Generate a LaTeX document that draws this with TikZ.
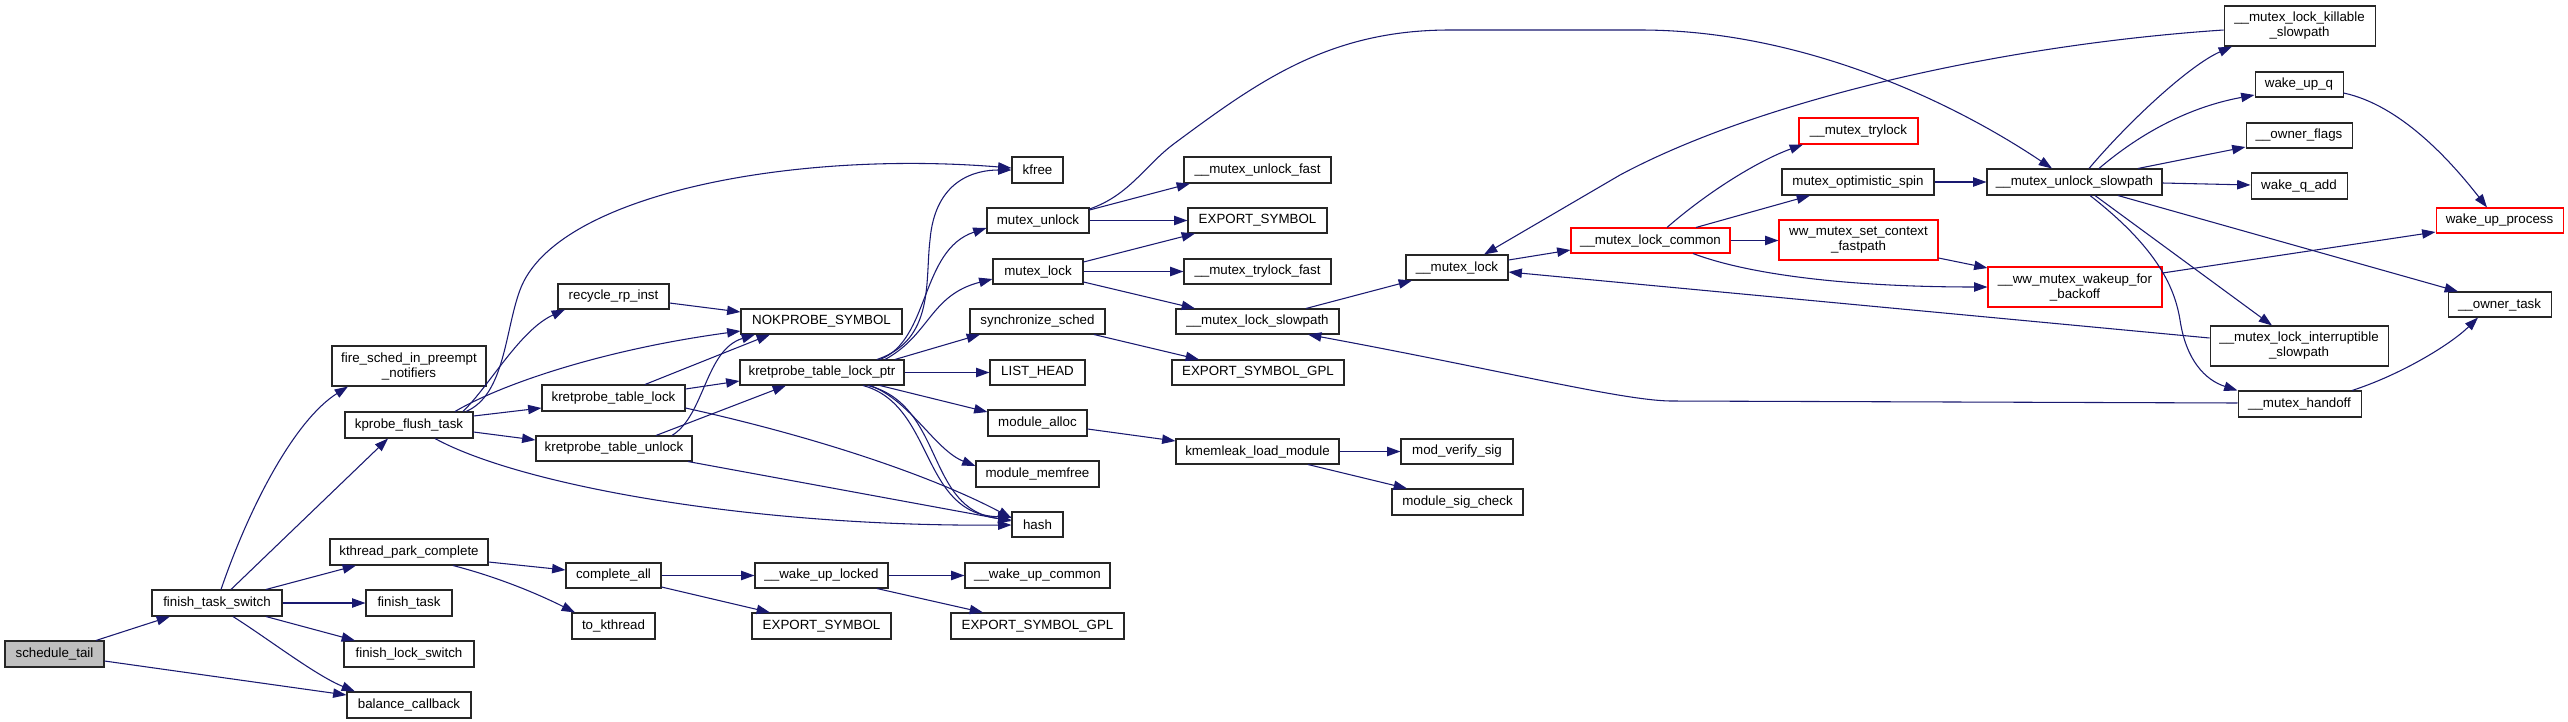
\documentclass[tikz,border=0pt]{standalone}
\usepackage{fontspec}
\setmainfont{Liberation Sans}
\usetikzlibrary{arrows.meta}
\definecolor{edgecol}{HTML}{191970}
\definecolor{nodered}{HTML}{FF0000}
\definecolor{rootgray}{HTML}{BFBFBF}
\definecolor{boxline}{HTML}{262626}
\tikzset{
  box/.style={draw=boxline, rectangle, inner sep=0pt, line width=0.8pt,
    font=\fontsize{10}{11.25}\selectfont, align=center, text=black},
  e/.style={draw=edgecol, line width=0.8pt, -{Triangle[length=10pt,width=7pt]}},
}
\newcommand\bx[7][]{\node[box,#1,minimum width={(#5-#3)*0.75pt},minimum height={(#6-#4)*0.75pt}] (#2) at ({(#3+#5)/2},{(#4+#6)/2}) {#7};}
\begin{document}
\begin{tikzpicture}[x=0.75pt,y=-0.75pt]
\fill[white] (0,0) rectangle (2568,721);
\useasboundingbox (0,0) rectangle (2568,721);
% nodes
\bx[fill=rootgray]{st}{5}{641}{104}{667}{schedule\_tail}
\bx{fts}{152}{590}{282}{616}{finish\_task\_switch}
\bx{fire}{332}{346}{486}{386}{fire\_sched\_in\_preempt\\\_notifiers}
\bx{kft}{345}{412}{473}{438}{kprobe\_flush\_task}
\bx{kpc}{330}{539}{488}{565}{kthread\_park\_complete}
\bx{ft}{366}{590}{452}{616}{finish\_task}
\bx{fls}{344}{641}{474}{667}{finish\_lock\_switch}
\bx{bc}{347}{692}{471}{718}{balance\_callback}
\bx{rri}{558}{284}{669}{309}{recycle\_rp\_inst}
\bx{nok}{741}{309}{902}{334}{NOKPROBE\_SYMBOL}
\bx{ktl}{542}{385}{685}{411}{kretprobe\_table\_lock}
\bx{ktul}{536}{436}{692}{461}{kretprobe\_table\_unlock}
\bx{ktlp}{740}{360}{904}{385}{kretprobe\_table\_lock\_ptr}
\bx{kfree}{1012}{157}{1063}{183}{kfree}
\bx{mu}{987}{208}{1089}{233}{mutex\_unlock}
\bx{mtxlock}{993}{259}{1083}{284}{mutex\_lock}
\bx{sync}{970}{309}{1105}{334}{synchronize\_sched}
\bx{lh}{990}{360}{1085}{385}{LIST\_HEAD}
\bx{ma}{988}{410}{1087}{436}{module\_alloc}
\bx{mmf}{976}{461}{1099}{487}{module\_memfree}
\bx{hash}{1012}{512}{1063}{537}{hash}
\bx{ca}{566}{563}{661}{588}{complete\_all}
\bx{wul}{755}{563}{888}{588}{\_\_wake\_up\_locked}
\bx{wuc}{965}{563}{1110}{588}{\_\_wake\_up\_common}
\bx{tk}{572}{613}{655}{639}{to\_kthread}
\bx{es2}{752}{613}{891}{639}{EXPORT\_SYMBOL}
\bx{esg2}{951}{613}{1124}{639}{EXPORT\_SYMBOL\_GPL}
\bx{muf}{1184}{157}{1331}{183}{\_\_mutex\_unlock\_fast}
\bx{es1}{1188}{208}{1327}{233}{EXPORT\_SYMBOL}
\bx{mtf}{1184}{259}{1331}{284}{\_\_mutex\_trylock\_fast}
\bx{mls}{1176}{309}{1339}{334}{\_\_mutex\_lock\_slowpath}
\bx{esg1}{1172}{360}{1344}{385}{EXPORT\_SYMBOL\_GPL}
\bx{kml}{1176}{439}{1339}{464}{kmemleak\_load\_module}
\bx{mvs}{1401}{439}{1513}{464}{mod\_verify\_sig}
\bx{msc}{1392}{489}{1523}{515}{module\_sig\_check}
\bx{umlock}{1406}{255}{1508}{280}{\_\_mutex\_lock}
\bx[draw=nodered]{mlc}{1571}{228}{1730}{253}{\_\_mutex\_lock\_common}
\bx[draw=nodered]{mtl}{1799}{118}{1918}{144}{\_\_mutex\_trylock}
\bx{mos}{1782}{169}{1934}{195}{mutex\_optimistic\_spin}
\bx{mus}{1987}{169}{2162}{195}{\_\_mutex\_unlock\_slowpath}
\bx[draw=nodered]{wsc}{1779}{220}{1938}{260}{ww\_mutex\_set\_context\\\_fastpath}
\bx[draw=nodered]{wwb}{1988}{267}{2162}{307}{\_\_ww\_mutex\_wakeup\_for\\\_backoff}
\bx{mlks}{2224}{6}{2375}{46}{\_\_mutex\_lock\_killable\\\_slowpath}
\bx{wuq}{2255}{72}{2343}{97}{wake\_up\_q}
\bx{of}{2246}{123}{2352}{148}{\_\_owner\_flags}
\bx{wqa}{2251}{173}{2347}{199}{wake\_q\_add}
\bx[draw=nodered]{wup}{2436}{208}{2563}{233}{wake\_up\_process}
\bx{ot}{2448}{292}{2551}{317}{\_\_owner\_task}
\bx{mli}{2210}{326}{2388}{366}{\_\_mutex\_lock\_interruptible\\\_slowpath}
\bx{mho}{2238}{391}{2361}{417}{\_\_mutex\_handoff}
% edges
\draw[e] (st.north -| 96,0) -- (fts.south -| 170,0);
\draw[e] (st.east |- 0,661) -- (bc.west |- 0,695);
\draw[e] (fts.north -| 221,0) .. controls (250,505) and (295,420) .. (fire.south -| 348,0);
\draw[e] (fts.north -| 231,0) -- (kft.south -| 388,0);
\draw[e] (fts.north -| 266,0) -- (kpc.south -| 356,0);
\draw[e] (fts.east) -- (ft.west);
\draw[e] (fts.south -| 266,0) -- (fls.north -| 355,0);
\draw[e] (fts.south -| 233,0) .. controls (270,640) and (315,675) .. (bc.north -| 355,0);
% kprobe_flush_task
\draw[e] (kft.north -| 466,0) .. controls (505,395) and (505,330) .. (520,290) .. controls (555,195) and (790,150) .. (kfree.west |- 0,168);
\draw[e] (kft.north -| 463,0) .. controls (490,385) and (520,330) .. (rri.south -| 565,0);
\draw[e] (kft.north -| 455,0) .. controls (500,385) and (600,350) .. (nok.west |- 0,331);
\draw[e] (kft.east |- 0,416) -- (ktl.west |- 0,408);
\draw[e] (kft.east |- 0,432) -- (ktul.west |- 0,440);
\draw[e] (kft.south -| 435,0) .. controls (520,485) and (750,527) .. (hash.west |- 0,525);
\draw[e] (rri.east |- 0,303) -- (nok.west |- 0,312);
\draw[e] (ktl.north -| 645,0) -- (nok.south -| 770,0);
\draw[e] (ktl.east |- 0,389) -- (ktlp.west |- 0,381);
\draw[e] (ktl.east |- 0,408) .. controls (830,440) and (940,480) .. (hash.west |- 0,518);
\draw[e] (ktul.north -| 656,0) -- (ktlp.south -| 786,0);
\draw[e] (ktul.north -| 672,0) .. controls (705,415) and (705,350) .. (nok.south -| 755,0);
\draw[e] (ktul.south -| 688,0) -- (hash.west |- 0,521);
% kretprobe_table_lock_ptr
\draw[e] (ktlp.north -| 877,0) .. controls (935,340) and (925,280) .. (930,240) .. controls (935,180) and (975,170) .. (kfree.west |- 0,170);
\draw[e] (ktlp.north -| 880,0) .. controls (930,340) and (920,250) .. (mu.west |- 0,228);
\draw[e] (ktlp.north -| 885,0) .. controls (930,335) and (930,295) .. (mtxlock.west |- 0,279);
\draw[e] (ktlp.north -| 895,0) -- (sync.south -| 980,0);
\draw[e] (ktlp.east) -- (lh.west);
\draw[e] (ktlp.south -| 880,0) -- (ma.west |- 0,412);
\draw[e] (ktlp.south -| 870,0) .. controls (910,400) and (935,450) .. (mmf.west |- 0,466);
\draw[e] (ktlp.south -| 863,0) .. controls (935,405) and (920,515) .. (hash.west |- 0,517);
\draw[e] (ktlp.south -| 868,0) .. controls (945,405) and (925,510) .. (hash.west |- 0,520);
% mutex_unlock / mutex_lock
\draw[e] (mu.east |- 0,210) -- (muf.south -| 1190,0);
\draw[e] (mu.east) -- (es1.west);
\draw[e] (mu.east |- 0,209) .. controls (1130,195) and (1145,165) .. (1175,143) .. controls (1260,80) and (1330,30) .. (1450,30) -- (1640,30) .. controls (1800,30) and (1950,100) .. (mus.north -| 2052,0);
\draw[e] (mtxlock.east |- 0,262) -- (es1.south -| 1195,0);
\draw[e] (mtxlock.east) -- (mtf.west);
\draw[e] (mtxlock.east |- 0,282) -- (mls.north -| 1195,0);
\draw[e] (sync.south -| 1094,0) -- (esg1.north -| 1199,0);
\draw[e] (ma.east |- 0,429) -- (kml.west |- 0,441);
\draw[e] (kml.east) -- (mvs.west);
\draw[e] (kml.south -| 1308,0) -- (msc.north -| 1407,0);
% __mutex_lock family
\draw[e] (mls.north -| 1306,0) -- (umlock.south -| 1412,0);
\draw[e] (umlock.east |- 0,260) -- (mlc.west |- 0,250);
\draw[e] (mli.west |- 0,338) -- (umlock.east |- 0,272);
\draw[e] (mlks.west |- 0,30) .. controls (2000,45) and (1760,100) .. (1620,175) -- (umlock.north -| 1484,0);
\draw[e] (mho.west |- 0,403) -- (1670,401) .. controls (1620,400) and (1500,370) .. (mls.south -| 1308,0);
\draw[e] (mho.north -| 2352,0) .. controls (2400,375) and (2450,345) .. (ot.south -| 2478,0);
% __mutex_unlock_slowpath
\draw[e] (mus.north -| 2089,0) .. controls (2130,120) and (2190,65) .. (mlks.south -| 2232,0);
\draw[e] (mus.north -| 2099,0) .. controls (2150,125) and (2200,105) .. (wuq.west |- 0,95);
\draw[e] (mus.north -| 2138,0) -- (of.west |- 0,147);
\draw[e] (mus.east |- 0,183) -- (wqa.west |- 0,185);
\draw[e] (mus.south -| 2118,0) -- (ot.north -| 2458,0);
\draw[e] (mus.south -| 2095,0) -- (mli.north -| 2272,0);
\draw[e] (mus.south -| 2090,0) .. controls (2160,250) and (2175,290) .. (2180,320) .. controls (2186,360) and (2205,380) .. (mho.north west);
\draw[e] (wuq.east |- 0,93) .. controls (2400,105) and (2450,160) .. (wup.north -| 2487,0);
% __mutex_lock_common
\draw[e] (mlc.north -| 1667,0) .. controls (1710,190) and (1760,160) .. (mtl.south -| 1803,0);
\draw[e] (mlc.north -| 1696,0) -- (mos.south -| 1810,0);
\draw[e] (mlc.east) -- (wsc.west |- mlc.east);
\draw[e] (mlc.south -| 1693,0) .. controls (1750,275) and (1850,287) .. (wwb.west |- 0,287);
\draw[e] (wsc.east |- 0,258) -- (wwb.west |- 0,268);
\draw[e] (mos.east) -- (mus.west);
\draw[e] (wwb.east |- 0,273) -- (wup.west |- 0,232);
% bottom cluster
\draw[e] (kpc.east |- 0,562) -- (ca.west |- 0,570);
\draw[e] (kpc.south -| 453,0) .. controls (490,575) and (530,590) .. (tk.north -| 575,0);
\draw[e] (ca.east) -- (wul.west);
\draw[e] (ca.east |- 0,587) -- (es2.north -| 770,0);
\draw[e] (wul.east) -- (wuc.west);
\draw[e] (wul.south -| 877,0) -- (esg2.north -| 983,0);
\end{tikzpicture}
\end{document}
